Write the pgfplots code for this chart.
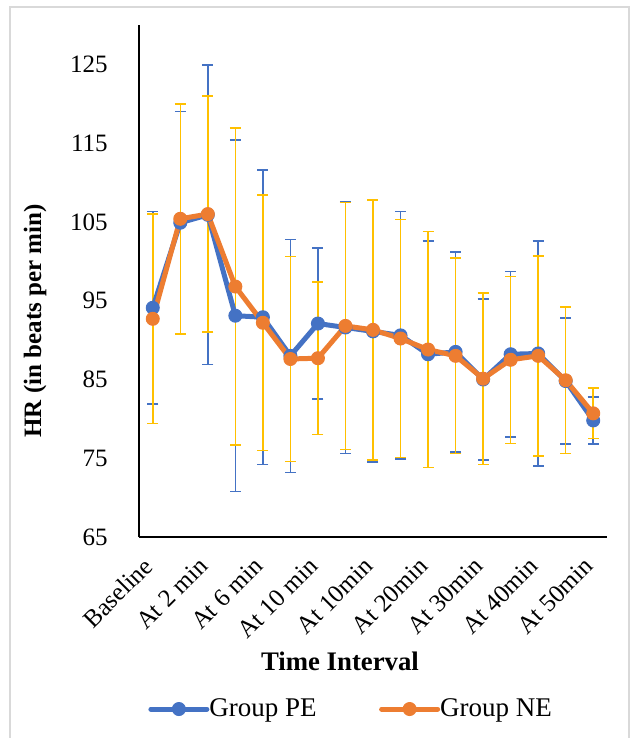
\documentclass[border=0pt]{standalone}
\usepackage{fontspec}
\setmainfont{Liberation Serif}
\usepackage{pgfplots}
\usepackage{pgfplotstable}
\pgfplotsset{compat=1.18}

\definecolor{peblue}{HTML}{4472C4}
\definecolor{neorange}{HTML}{ED7D31}
\definecolor{negold}{HTML}{FFC000}
\definecolor{chartframe}{HTML}{D9D9D9}

% mean heart rate and SD per time point (17 readings)
\pgfplotstableread{
x  pe     pee   ne     nee
1  94.1   12.2  92.7   13.3
2  104.9  14.1  105.4  14.6
3  105.9  19.0  106.0  15.0
4  93.1   22.3  96.8   20.1
5  92.9   18.7  92.2   16.2
6  88.0   14.8  87.6   13.0
7  92.1   9.6   87.7   9.7
8  91.6   16.0  91.8   15.7
9  91.1   16.6  91.3   16.5
10 90.6   15.7  90.2   15.1
11 88.2   14.4  88.8   15.0
12 88.5   12.7  88.0   12.4
13 85.0   10.2  85.1   10.9
14 88.2   10.5  87.5   10.6
15 88.3   14.3  88.0   12.7
16 84.8   8.0   84.9   9.3
17 79.8   3.0   80.7   3.2
}\hrdata

\begin{document}
\begin{tikzpicture}
\useasboundingbox (-55.6pt,-80.4pt) rectangle (196.4pt,214.8pt);
\draw[chartframe, line width=0.6pt] (-51.6pt,-82pt) rectangle (196pt,212pt);
\begin{axis}[
  scale only axis, width=187.2pt, height=204.8pt,
  xmin=0.5, xmax=17.5, ymin=65, ymax=130,
  axis x line=bottom, axis y line=left,
  axis line style={-, line width=0.9pt, black},
  xtick={1,3,...,17},
  xticklabels={Baseline,At 2 min,At 6 min,At 10 min,At 10min,At 20min,At 30min,At 40min,At 50min},
  ytick={65,75,...,125},
  major tick length=0pt,
  /pgf/number format/assume math mode=true,
  yticklabel style={xshift=-9pt},
  xticklabel style={anchor=east, inner sep=0pt, xshift=-1.7pt, yshift=-10pt, rotate=45},
  xlabel={\bfseries Time Interval},
  ylabel={\bfseries HR (in beats per min)},
  xlabel style={at={(axis description cs:0.4295,-0.2422)}, anchor=center,
    font=\fontsize{10.7}{13}\selectfont},
  ylabel style={at={(axis description cs:-0.2222,0.4219)}, anchor=center, rotate=0},
  legend style={at={(axis description cs:0.019,-0.336)}, anchor=west,
    draw=none, fill=none, inner sep=0pt, legend columns=2,
    nodes={inner sep=0pt}, font=\fontsize{10.8}{13}\selectfont,
    /tikz/every odd column/.append style={column sep=0pt},
    /tikz/every even column/.append style={column sep=25pt}},
  legend cell align=left,
  legend image code/.code={\draw[#1, mark repeat=2, mark phase=2]
    plot coordinates {(0pt,0pt) (11.2pt,0pt) (22.4pt,0pt)};},
]
\addplot[forget plot, only marks, mark=none,
  error bars/.cd, y dir=both, y explicit,
  error bar style={draw=peblue, line width=0.6pt},
  error mark options={rotate=90, mark size=2.2pt, draw=peblue, line width=0.6pt}]
  table[x=x, y=pe, y error=pee] {\hrdata};
\addplot[forget plot, only marks, mark=none,
  error bars/.cd, y dir=both, y explicit,
  error bar style={draw=negold, line width=0.6pt},
  error mark options={rotate=90, mark size=2.2pt, draw=negold, line width=0.6pt}]
  table[x=x, y=ne, y error=nee] {\hrdata};
\addplot[peblue, line width=2pt, line cap=round, line join=round,
  mark=*, mark size=2.6pt, mark options={fill=peblue, draw=peblue, line width=0.4pt}]
  table[x=x, y=pe] {\hrdata};
\addlegendentry{Group PE}
\addplot[neorange, line width=2pt, line cap=round, line join=round,
  mark=*, mark size=2.6pt, mark options={fill=neorange, draw=neorange, line width=0.4pt}]
  table[x=x, y=ne] {\hrdata};
\addlegendentry{Group NE}
\end{axis}
\end{tikzpicture}
\end{document}
